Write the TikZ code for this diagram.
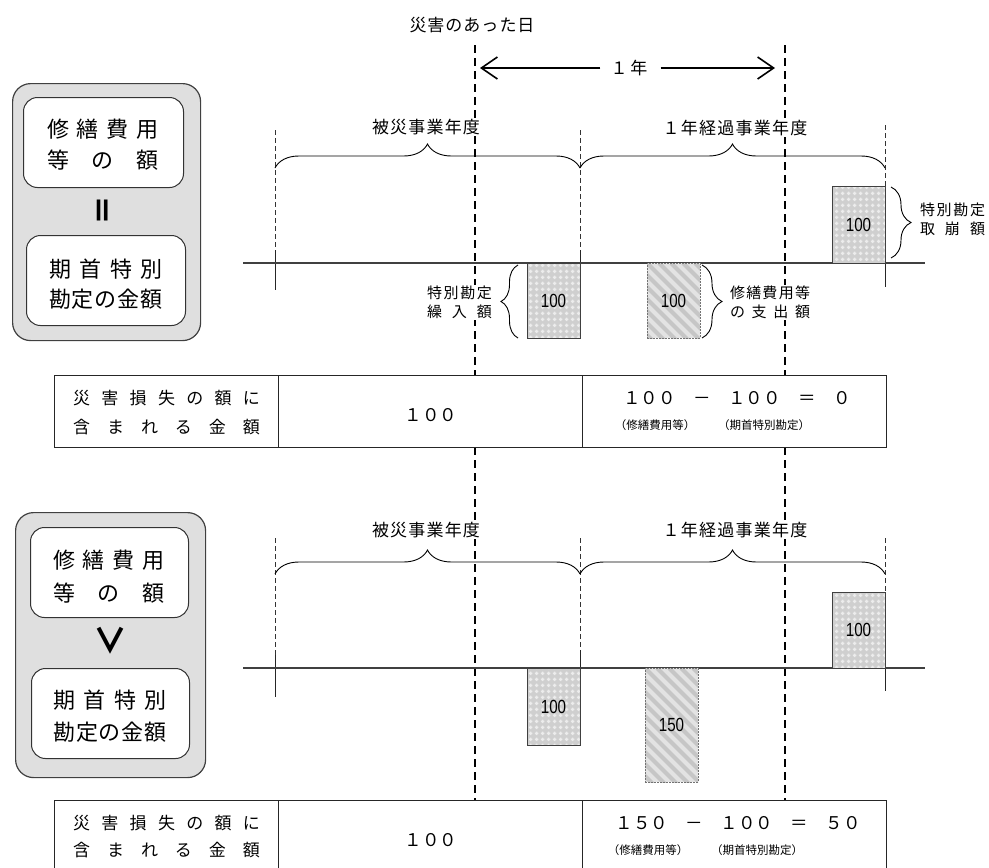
\documentclass[tikz,border=0pt]{standalone}
\usepackage{fontspec}
\setmainfont{Noto Sans CJK JP}
\newfontfamily\numfont{Liberation Sans}
\usepackage{graphicx}
\usetikzlibrary{decorations.pathreplacing,patterns,arrows.meta,calc}
\newcommand\myfs[2]{\fontsize{#1}{#2}\selectfont}
\newcommand\spr[2]{\makebox[#1][s]{#2}}
\newcommand\barnum[1]{\scalebox{0.8}[1]{\numfont\myfs{19}{19}#1}}
\pgfdeclarepatternformonly{plusdots}{\pgfqpoint{0pt}{0pt}}{\pgfqpoint{6pt}{6pt}}{\pgfqpoint{6pt}{6pt}}{%
  \pgfpathrectangle{\pgfqpoint{2.2pt}{1pt}}{\pgfqpoint{1.6pt}{4pt}}%
  \pgfpathrectangle{\pgfqpoint{1pt}{2.2pt}}{\pgfqpoint{4pt}{1.6pt}}%
  \pgfusepath{fill}}
\begin{document}
\begin{tikzpicture}[x=1pt,y=-1pt,
  thickdash/.style={line width=1.8pt, dash pattern=on 8pt off 5pt},
  thindash/.style={line width=0.7pt, dash pattern=on 5pt off 3pt, black!80},
  tick/.style={line width=0.9pt, black!85},
  axisline/.style={line width=1.2pt, black!75},
  brc/.style={decorate, decoration={brace, amplitude=#1}, line width=0.9pt},
  arr/.style={line width=1.6pt, -{Straight Barb[length=16pt,width=22pt,line width=1.6pt]}},
  lbl/.style={inner sep=1pt, fill=white, font=\myfs{17}{20}},
  sidelbl/.style={inner sep=1pt, fill=white, align=center, font=\myfs{15}{19}},
  tbl/.style={inner sep=0pt, align=center, font=\myfs{17}{29}},
  eqlbl/.style={inner sep=0pt, font=\myfs{17.5}{17}},
  sublbl/.style={inner sep=0pt, font=\myfs{11.5}{11}},
  boxtxt/.style={inner sep=0pt, align=center, font=\myfs{22}{31}},
  bardots/.style={draw=black!75, line width=0.9pt, preaction={fill=gray!38}, pattern=plusdots, pattern color=white!85!gray, inner sep=0pt, outer sep=0pt, anchor=north west, minimum width=53pt},
  barstr/.style={draw=black!55, line width=0.6pt, dash pattern=on 2pt off 1pt, fill=gray!22, inner sep=0pt, outer sep=0pt, anchor=north west, minimum width=53pt,
    path picture={\foreach \k in {-14,...,5}{\draw[gray!45, line width=4pt, solid] ([xshift=\k*12pt]path picture bounding box.north west) -- ++(160pt,-160pt);}}},
  cellbox/.style={draw=black!85, line width=1pt, fill=white, inner sep=0pt, outer sep=0pt, anchor=north west},
  graybox/.style={draw=black!75, line width=1.2pt, fill=gray!25, rounded corners=18pt, inner sep=0pt, anchor=north west},
  whitebox/.style={draw=black!80, line width=1pt, fill=white, rounded corners=14pt, inner sep=0pt, anchor=north west}
]
\useasboundingbox (0,0) rectangle (989,868);
\clip (0,0) rectangle (989,868);

% ---------- left grey boxes ----------
\node[graybox, minimum width=188pt, minimum height=257pt] (g1) at (12,83) {};
\node[whitebox, minimum width=160pt, minimum height=90pt] (g1a) at (23,97) {};
\node[whitebox, minimum width=159pt, minimum height=90pt] (g1b) at (26,235) {};
\node[boxtxt] (g1at) at (103,144.5) {\spr{112pt}{修\hfill 繕\hfill 費\hfill 用}\\\spr{112pt}{等\hfill の\hfill 額}};
\node[boxtxt, font=\myfs{22}{30}] (g1bt) at (106,284) {\spr{114pt}{期\hfill 首\hfill 特\hfill 別}\\\spr{114pt}{勘\hfill 定\hfill の\hfill 金\hfill 額}};
\node[inner sep=0pt, rotate=90, font=\myfs{30}{30}\bfseries] (eqs) at (106,210) {＝};

\node[graybox, minimum width=190pt, minimum height=265pt] (g2) at (15,512) {};
\node[whitebox, minimum width=158pt, minimum height=90pt] (g2a) at (30,527) {};
\node[whitebox, minimum width=158pt, minimum height=90pt] (g2b) at (31,668) {};
\node[boxtxt, font=\myfs{22}{33}] (g2at) at (109,576.5) {\spr{112pt}{修\hfill 繕\hfill 費\hfill 用}\\\spr{112pt}{等\hfill の\hfill 額}};
\node[boxtxt, font=\myfs{22}{32}] (g2bt) at (110,716) {\spr{113pt}{期\hfill 首\hfill 特\hfill 別}\\\spr{113pt}{勘\hfill 定\hfill の\hfill 金\hfill 額}};
\node[inner sep=0pt, font=\myfs{34}{34}\bfseries] (gts) at (110,641) {∨};

% ---------- long dashed lines ----------
\coordinate (D1a) at (475,45); \coordinate (D1b) at (475,375);
\coordinate (D1c) at (475,447); \coordinate (D1d) at (475,800);
\coordinate (D2a) at (785,45); \coordinate (D2b) at (785,375);
\coordinate (D2c) at (785,447); \coordinate (D2d) at (785,800);
\draw[thickdash] (D1a) -- (D1b);
\draw[thickdash] (D1c) -- (D1d);
\draw[thickdash] (D2a) -- (D2b);
\draw[thickdash] (D2c) -- (D2d);

% ---------- top labels / arrow ----------
\node[lbl] (day) at (472,25) {\spr{125pt}{災\hfill 害\hfill の\hfill あ\hfill っ\hfill た\hfill 日}};
\node[lbl] (yr) at (629,68) {\spr{37pt}{１\hfill 年}};
\coordinate (aL) at (480,68);
\coordinate (aR) at (775,68);
\draw[arr] ([xshift=-9pt]yr.west) -- (aL);
\draw[arr] ([xshift=12pt]yr.east) -- (aR);

% ---------- section 1 ----------
\coordinate (Uta) at (275,130); \coordinate (Uma) at (275,250); \coordinate (Uba) at (275,290);
\coordinate (Utb) at (580,130); \coordinate (Umb) at (580,250); \coordinate (Ubb) at (580,290);
\coordinate (Utc) at (885,125); \coordinate (Umc) at (885,256); \coordinate (Ubc) at (885,287);
\draw[thindash] (Uta) -- (Uma); \draw[tick] (Uma) -- (Uba);
\draw[thindash] (Utb) -- (Umb); \draw[tick] (Umb) -- (Ubb);
\draw[thindash] (Utc) -- (Umc); \draw[tick] (Umc) -- (Ubc);

\node[lbl] (fy1) at (426,127) {\spr{108pt}{被\hfill 災\hfill 事\hfill 業\hfill 年\hfill 度}};
\node[lbl] (fy2) at (735,128) {\spr{145pt}{１\hfill 年\hfill 経\hfill 過\hfill 事\hfill 業\hfill 年\hfill 度}};

\coordinate (B1) at (275,168); \coordinate (B2) at (580,168); \coordinate (B3) at (885,168);
\draw[brc=24] (B1) -- (B2);
\draw[brc=24] (B2) -- (B3);

\coordinate (AxL) at (243,263); \coordinate (AxR) at (925,263);
\draw[axisline] (AxL) -- (AxR);

\node[bardots, minimum height=75pt] (bA) at (527,263) {\barnum{100}};
\node[barstr, minimum height=75pt] (bB) at (647,263) {\barnum{100}};
\node[bardots, minimum height=77pt] (bC) at (832,186) {\barnum{100}};

\draw[brc=17] ([xshift=-9pt]bA.south west) -- ([xshift=-9pt,yshift=-2pt]bA.north west);
\draw[brc=20] ([xshift=2pt,yshift=-2pt]bB.north east) -- ([xshift=2pt]bB.south east);
\draw[brc=20] ([xshift=6pt,yshift=-1pt]bC.north east) -- ([xshift=6pt,yshift=5pt]bC.south east);

\node[sidelbl] (lA) at (459.5,302.5) {\spr{65pt}{特\hfill 別\hfill 勘\hfill 定}\\\spr{65pt}{繰\hfill 入\hfill 額}};
\node[sidelbl] (lB) at (770,302.5) {\spr{80pt}{修\hfill 繕\hfill 費\hfill 用\hfill 等}\\\spr{80pt}{の\hfill 支\hfill 出\hfill 額}};
\node[sidelbl] (lC) at (952.5,219) {\spr{65pt}{特\hfill 別\hfill 勘\hfill 定}\\\spr{65pt}{取\hfill 崩\hfill 額}};

% table 1
\node[cellbox, minimum width=224pt, minimum height=72pt] (t1a) at (54,375) {};
\node[cellbox, minimum width=304pt, minimum height=72pt] (t1b) at (278,375) {};
\node[cellbox, minimum width=304pt, minimum height=72pt] (t1c) at (582,375) {};
\node[tbl] (t1at) at (166.5,412.5) {\spr{187pt}{災\hfill 害\hfill 損\hfill 失\hfill の\hfill 額\hfill に}\\\spr{187pt}{含\hfill ま\hfill れ\hfill る\hfill 金\hfill 額}};
\node[eqlbl] (t1bt) at (431,415) {１００};
\node[eqlbl] (t1ct) at (737,398) {１００　－　１００　＝　０};
\node[sublbl] (t1s1) at (655,425) {（修繕費用等）};
\node[sublbl] (t1s2) at (764,425) {（期首特別勘定）};

% ---------- section 2 ----------
\coordinate (Vta) at (275,538); \coordinate (Vma) at (275,655); \coordinate (Vba) at (275,697);
\coordinate (Vtb) at (580,538); \coordinate (Vmb) at (580,650); \coordinate (Vbb) at (580,697);
\coordinate (Vtc) at (885,538); \coordinate (Vmc) at (885,660); \coordinate (Vbc) at (885,691);
\draw[thindash] (Vta) -- (Vma); \draw[tick] (Vma) -- (Vba);
\draw[thindash] (Vtb) -- (Vmb); \draw[tick] (Vmb) -- (Vbb);
\draw[thindash] (Vtc) -- (Vmc); \draw[tick] (Vmc) -- (Vbc);

\node[lbl] (fy3) at (426,530) {\spr{108pt}{被\hfill 災\hfill 事\hfill 業\hfill 年\hfill 度}};
\node[lbl] (fy4) at (735,530) {\spr{145pt}{１\hfill 年\hfill 経\hfill 過\hfill 事\hfill 業\hfill 年\hfill 度}};

\coordinate (C1) at (275,574); \coordinate (C2) at (580,574); \coordinate (C3) at (885,574);
\draw[brc=24] (C1) -- (C2);
\draw[brc=24] (C2) -- (C3);

\coordinate (BxL) at (243,668); \coordinate (BxR) at (925,668);
\draw[axisline] (BxL) -- (BxR);

\node[bardots, minimum height=77pt] (cA) at (527,668) {\barnum{100}};
\node[barstr, minimum height=114pt] (cB) at (645,668) {\barnum{150}};
\node[bardots, minimum height=76pt] (cC) at (832,592) {\barnum{100}};

% table 2
\node[cellbox, minimum width=224pt, minimum height=80pt] (t2a) at (54,800) {};
\node[cellbox, minimum width=304pt, minimum height=80pt] (t2b) at (278,800) {};
\node[cellbox, minimum width=304pt, minimum height=80pt] (t2c) at (582,800) {};
\node[tbl, font=\myfs{17}{27}] (t2at) at (166.5,836.5) {\spr{187pt}{災\hfill 害\hfill 損\hfill 失\hfill の\hfill 額\hfill に}\\\spr{187pt}{含\hfill ま\hfill れ\hfill る\hfill 金\hfill 額}};
\node[eqlbl] (t2bt) at (431,840) {１００};
\node[eqlbl] (t2ct) at (738,823) {１５０　－　１００　＝　５０};
\node[sublbl] (t2s1) at (648,850) {（修繕費用等）};
\node[sublbl] (t2s2) at (757,850) {（期首特別勘定）};
\end{tikzpicture}
\end{document}
